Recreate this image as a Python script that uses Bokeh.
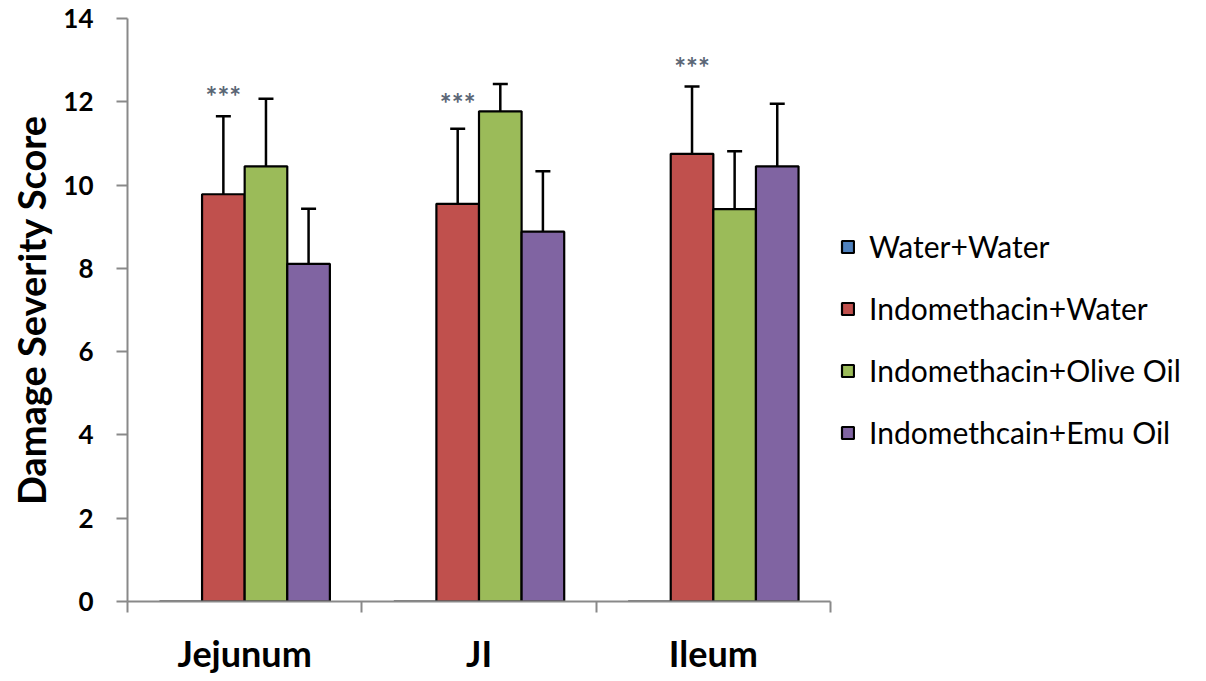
import numpy as np
from bokeh.plotting import figure
from bokeh.models import (ColumnDataSource, Range1d, FixedTicker, Legend, LegendItem,
                          Whisker, TeeHead)
from bokeh.core.properties import value
from bokeh.embed import file_html
from bokeh.resources import INLINE

categories = ["Jejunum", "JI", "Ileum"]
series = ["Water+Water", "Indomethacin+Water", "Indomethacin+Olive Oil", "Indomethcain+Emu Oil"]
colors = ["#4F81BD", "#C0504D", "#9BBB59", "#8064A2"]
water_water = [0, 0, 0]
indo_water = [9.78, 9.55, 10.75]
indo_olive = [10.45, 11.77, 9.42]
indo_emu = [8.11, 8.88, 10.45]
err_water_water = [0, 0, 0]
err_indo_water = [1.87, 1.80, 1.62]
err_indo_olive = [1.62, 0.66, 1.39]
err_indo_emu = [1.32, 1.45, 1.50]
star_labels = ["***", "***", "***"]
star_y = [12.15, 11.97, 12.83]
y_ticks = [0, 2, 4, 6, 8, 10, 12, 14]

values = [water_water, indo_water, indo_olive, indo_emu]
errors = [err_water_water, err_indo_water, err_indo_olive, err_indo_emu]

FONT = "Lato"
n_series = len(series)
bar_w = 1.0 / (n_series + 1.5)
offsets = [(i - (n_series - 1) / 2) * bar_w for i in range(n_series)]
centers = np.arange(len(categories)) + 0.5

p = figure(frame_width=703, frame_height=583, output_backend="svg", toolbar_location=None,
           x_range=Range1d(0, len(categories)), y_range=Range1d(0, 14),
           min_border_left=127, min_border_top=18, min_border_bottom=76, min_border_right=0)
p.outline_line_color = None
p.grid.visible = False
p.background_fill_color = "white"

renderers = []
for i in range(n_series):
    src = ColumnDataSource(dict(x=centers + offsets[i], top=values[i],
                                upper=np.array(values[i]) + np.array(errors[i]),
                                base=values[i]))
    r = p.vbar(x="x", top="top", width=bar_w, bottom=0, source=src,
               fill_color=colors[i], line_color="black", line_width=2.2)
    renderers.append(r)
    if i > 0:
        w = Whisker(source=src, base="x", upper="upper", lower="base",
                    line_color="black", line_width=2.5,
                    upper_head=TeeHead(size=15, line_color="black", line_width=2.5),
                    lower_head=None)
        p.add_layout(w)

# significance stars above the Indomethacin+Water bars
star_src = ColumnDataSource(dict(x=centers + offsets[1], y=star_y, t=star_labels))
p.text(x="x", y="y", text="t", source=star_src, text_align="center", text_baseline="middle",
       text_font=value(FONT), text_font_size="28px", text_font_style="bold",
       text_color="#5a6675")

# axes
axis_color = "#898989"
p.yaxis.ticker = FixedTicker(ticks=y_ticks)
p.yaxis.axis_line_color = axis_color
p.yaxis.axis_line_width = 2
p.yaxis.major_tick_line_color = axis_color
p.yaxis.major_tick_line_width = 2
p.yaxis.major_tick_out = 11
p.yaxis.major_tick_in = 0
p.yaxis.minor_tick_line_color = None
p.yaxis.major_label_standoff = 23
p.yaxis.major_label_text_font = FONT
p.yaxis.major_label_text_font_size = "26px"
p.yaxis.major_label_text_font_style = "bold"
p.yaxis.major_label_text_color = "black"
p.yaxis.axis_label = "Damage Severity Score"
p.yaxis.axis_label_text_font = FONT
p.yaxis.axis_label_text_font_size = "38px"
p.yaxis.axis_label_text_font_style = "bold"
p.yaxis.axis_label_text_color = "black"
p.yaxis.axis_label_standoff = 6

p.xaxis.ticker = FixedTicker(ticks=list(centers), minor_ticks=list(range(len(categories) + 1)))
p.xaxis.major_label_overrides = {float(c): lab for c, lab in zip(centers, categories)}
p.xaxis.axis_line_color = axis_color
p.xaxis.axis_line_width = 2
p.xaxis.major_tick_line_color = None
p.xaxis.major_tick_out = 0
p.xaxis.major_tick_in = 0
p.xaxis.minor_tick_line_color = axis_color
p.xaxis.minor_tick_line_width = 2
p.xaxis.minor_tick_out = 11
p.xaxis.minor_tick_in = 0
p.xaxis.major_label_standoff = 18
p.xaxis.major_label_text_font = FONT
p.xaxis.major_label_text_font_size = "36px"
p.xaxis.major_label_text_font_style = "bold"
p.xaxis.major_label_text_color = "black"

legend = Legend(items=[LegendItem(label=s, renderers=[r]) for s, r in zip(series, renderers)],
                location=(10, 151), orientation="vertical",
                glyph_width=15, glyph_height=15, label_standoff=14,
                label_text_font=FONT, label_text_font_size="30px", label_text_color="black",
                label_height=30, spacing=26, padding=0, margin=0,
                border_line_alpha=0, background_fill_alpha=0)
p.add_layout(legend, "right")

open("out.html", "w").write(file_html(p, INLINE))
